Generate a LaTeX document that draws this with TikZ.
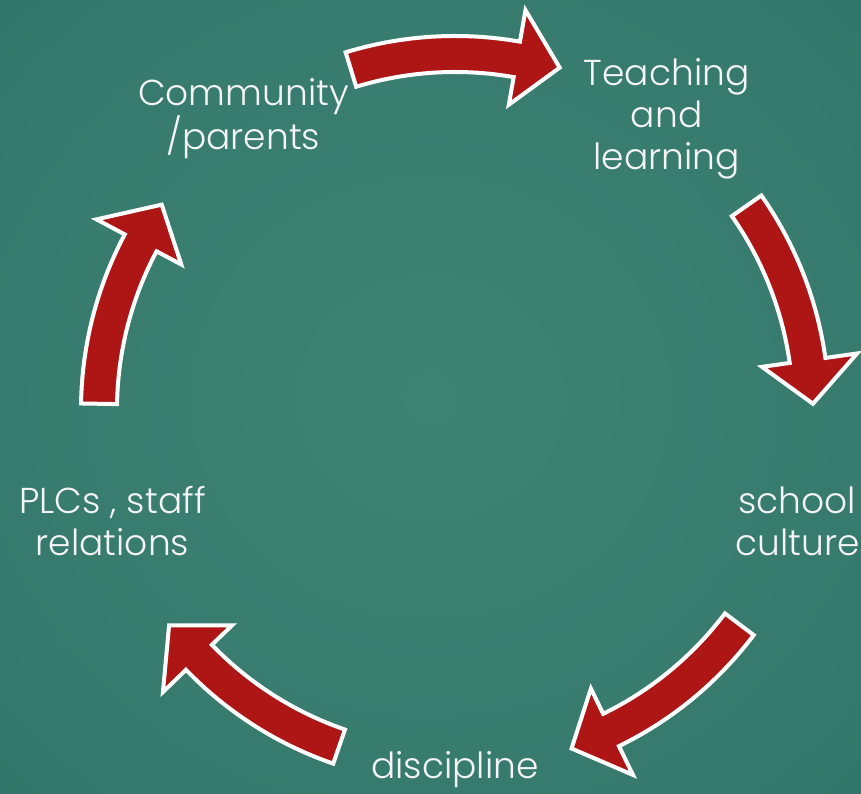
\documentclass[tikz,border=0pt]{standalone}
\usepackage{fontspec}
\setmainfont{Poppins Light}
\definecolor{bgA}{HTML}{3E8373}
\definecolor{bgB}{HTML}{367A6D}
\definecolor{bgC}{HTML}{2A6C66}
\definecolor{bgD}{HTML}{1F5D5B}
\definecolor{arrowred}{HTML}{AE1616}
\definecolor{labelwhite}{HTML}{F4F4F4}
\pgfdeclareradialshading{bgglow}{\pgfpoint{0bp}{0bp}}{color(0bp)=(bgA); color(28bp)=(bgB); color(55bp)=(bgC); color(75bp)=(bgD)}
\tikzset{
  cyclearrow/.style={fill=arrowred, draw=white, line width=4pt, line join=miter},
  lbl/.style={text=labelwhite, align=center, inner sep=0pt,
    font=\fontsize{36}{42}\selectfont}
}
% one curved arrow of the cycle, centred on the top of the circle,
% turned clockwise by #1 degrees
\newcommand\cyclearrowshape[1]{%
  \begin{scope}[rotate=-#1]
    \draw[cyclearrow]
      (107:374pt) arc[start angle=107, end angle=80, radius=374pt]
      -- (80:406pt) -- (73:358pt) -- (80:310pt)
      -- (80:338pt) arc[start angle=80, end angle=107, radius=338pt]
      -- cycle;
  \end{scope}}
\begin{document}
\begin{tikzpicture}
  \useasboundingbox (-455pt,-384pt) rectangle (406pt,410pt);
  \shade[shading=bgglow] (-455pt,-384pt) rectangle (406pt,410pt);
  \coordinate (hub) at (0,0);

  \cyclearrowshape{0}
  \cyclearrowshape{72}
  \cyclearrowshape{144}
  \cyclearrowshape{216}
  \cyclearrowshape{288}

  \node[lbl] (teach)  at (54:360pt)  {Teaching\\and\\learning};
  \node[lbl] (school) at (-18:360pt) {school\\culture};
  \node[lbl] (disc)   at (-90:360pt) {discipline};
  \node[lbl] (plc)    at (198:360pt) {PLCs , staff\\relations};
  \node[lbl] (comm)   at (126:360pt) {Community\\/parents};
\end{tikzpicture}
\end{document}
